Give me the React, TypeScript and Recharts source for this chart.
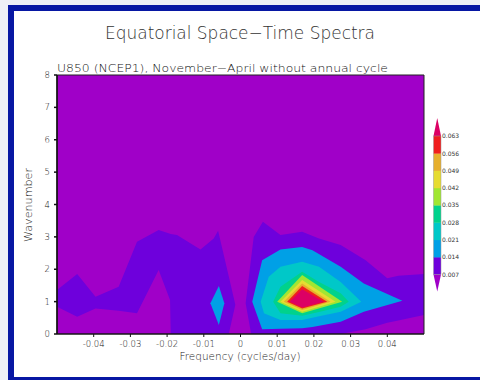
import { Area, CartesianGrid, ComposedChart, ReferenceArea, XAxis, YAxis } from "recharts";

// contour bands: at each frequency f, the band covers wavenumbers lo..hi
const band1West = [
  { f: -0.05, lo: 0.84, hi: 1.36 },
  { f: -0.0445, lo: 0.53, hi: 1.85 },
  { f: -0.0395, lo: 0.79, hi: 1.15 },
  { f: -0.0332, lo: 0.72, hi: 1.46 },
  { f: -0.0282, lo: 0.64, hi: 2.85 },
  { f: -0.0223, lo: 1.98, hi: 3.21 },
  { f: -0.0192, lo: 1.05, hi: 3.1 },
  { f: -0.019, lo: 0, hi: 3.09 },
  { f: -0.0173, lo: 0, hi: 3.06 },
  { f: -0.0109, lo: 0, hi: 2.61 },
  { f: -0.0073, lo: 0, hi: 2.95 },
  { f: -0.0061, lo: 0, hi: 3.19 },
  { f: -0.0032, lo: 0, hi: 1.78 },
  { f: -0.0014, lo: 0.9, hi: 0.9 },
];

const band1East = [
  { f: 0.0014, lo: 0.95, hi: 0.95 },
  { f: 0.0029, lo: 0, hi: 2.35 },
  { f: 0.0036, lo: 0, hi: 3.0 },
  { f: 0.0061, lo: 0, hi: 3.47 },
  { f: 0.0109, lo: 0, hi: 3.06 },
  { f: 0.0168, lo: 0, hi: 3.16 },
  { f: 0.0214, lo: 0, hi: 2.95 },
  { f: 0.0273, lo: 0, hi: 2.75 },
  { f: 0.0341, lo: 0.15, hi: 2.28 },
  { f: 0.04, lo: 0.35, hi: 1.72 },
  { f: 0.043, lo: 0.42, hi: 1.8 },
  { f: 0.05, lo: 0.59, hi: 1.85 },
];

const band2West = [
  { f: -0.0082, lo: 0.95, hi: 0.95 },
  { f: -0.0059, lo: 0.28, hi: 1.48 },
  { f: -0.0044, lo: 0.95, hi: 0.95 },
];

const band2East = [
  { f: 0.0032, lo: 1.0, hi: 1.0 },
  { f: 0.0059, lo: 0.15, hi: 2.28 },
  { f: 0.0109, lo: 0.16, hi: 2.61 },
  { f: 0.0168, lo: 0.18, hi: 2.69 },
  { f: 0.0196, lo: 0.22, hi: 2.59 },
  { f: 0.0273, lo: 0.38, hi: 2.08 },
  { f: 0.0336, lo: 0.69, hi: 1.56 },
  { f: 0.0441, lo: 1.03, hi: 1.03 },
];

const band3 = [
  { f: 0.0055, lo: 1.0, hi: 1.0 },
  { f: 0.0064, lo: 0.64, hi: 1.31 },
  { f: 0.0077, lo: 0.58, hi: 1.77 },
  { f: 0.0109, lo: 0.43, hi: 2.08 },
  { f: 0.0168, lo: 0.43, hi: 2.23 },
  { f: 0.0214, lo: 0.55, hi: 2.08 },
  { f: 0.0273, lo: 0.69, hi: 1.61 },
  { f: 0.0329, lo: 1.0, hi: 1.0 },
];

const band4 = [
  { f: 0.0089, lo: 1.0, hi: 1.0 },
  { f: 0.0109, lo: 0.64, hi: 1.46 },
  { f: 0.0168, lo: 0.56, hi: 1.92 },
  { f: 0.0214, lo: 0.68, hi: 1.61 },
  { f: 0.0273, lo: 0.84, hi: 1.26 },
  { f: 0.0295, lo: 1.0, hi: 1.0 },
];

const band5 = [
  { f: 0.01, lo: 1.0, hi: 1.0 },
  { f: 0.0168, lo: 0.64, hi: 1.82 },
  { f: 0.0277, lo: 1.0, hi: 1.0 },
];

const band6 = [
  { f: 0.0109, lo: 1.0, hi: 1.0 },
  { f: 0.0168, lo: 0.69, hi: 1.67 },
  { f: 0.0259, lo: 1.0, hi: 1.0 },
];

const band7 = [
  { f: 0.0118, lo: 1.0, hi: 1.0 },
  { f: 0.0168, lo: 0.74, hi: 1.56 },
  { f: 0.0245, lo: 1.0, hi: 1.0 },
];

const band8 = [
  { f: 0.0127, lo: 1.0, hi: 1.0 },
  { f: 0.0168, lo: 0.79, hi: 1.48 },
  { f: 0.0236, lo: 1.0, hi: 1.0 },
];

const band9 = [
  { f: 0.0134, lo: 1.0, hi: 1.0 },
  { f: 0.0168, lo: 0.82, hi: 1.38 },
  { f: 0.0227, lo: 1.0, hi: 1.0 },
];

const levelLabels = ["0.007", "0.014", "0.021", "0.028", "0.035", "0.042", "0.049", "0.056", "0.063"];
// below first level .. above last level
const levelColors = [
  "#a000c8",
  "#6e00dc",
  "#00a0e6",
  "#00c8c8",
  "#00d28c",
  "#a0e632",
  "#e6dc32",
  "#e6af2d",
  "#f01e1e",
  "#dc0064",
];

const freqTicks = [-0.04, -0.03, -0.02, -0.01, 0, 0.01, 0.02, 0.03, 0.04];
const waveTicks = [0, 1, 2, 3, 4, 5, 6, 7, 8];

const layers = [
  { data: band1West, level: 1 },
  { data: band1East, level: 1 },
  { data: band2West, level: 2 },
  { data: band2East, level: 2 },
  { data: band3, level: 3 },
  { data: band4, level: 4 },
  { data: band5, level: 5 },
  { data: band6, level: 6 },
  { data: band7, level: 7 },
  { data: band8, level: 8 },
  { data: band9, level: 9 },
];

const FONT = "'DejaVu Sans', sans-serif";
const tickStyle = { fontSize: 8.5, fill: "#111", fontFamily: FONT, fontWeight: 200 };

function ColorBar() {
  const x = 433.5;
  const w = 7.5;
  const top = 136;
  const step = 17.3;
  const n = levelLabels.length - 1;
  const bottom = top + n * step;
  const cx = x + w / 2;
  return (
    <g>
      <polygon points={`${x},${top} ${x + w},${top} ${cx},${top - 18}`} fill={levelColors[9]} />
      {levelColors.slice(1, 9).map((c, i) => (
        <rect key={c} x={x} y={top + (n - 1 - i) * step} width={w} height={step + 0.3} fill={c} />
      ))}
      <polygon points={`${x},${bottom} ${x + w},${bottom} ${cx},${bottom + 17}`} fill={levelColors[0]} />
      <rect x={x} y={top} width={w} height={bottom - top} fill="none" stroke="#999" strokeWidth={0.5} />
      {levelLabels.map((t, i) => (
        <text key={t} x={x + w + 1} y={bottom - i * step + 2.2} fontSize={6} fill="#333" fontFamily={FONT}>
          {t}
        </text>
      ))}
    </g>
  );
}

export default function App() {
  return (
    <div style={{ position: "fixed", inset: 0, background: "#eef0f6", overflow: "hidden" }}>
      <div
        style={{
          position: "absolute",
          left: 8,
          top: 5,
          width: 480,
          height: 366,
          background: "#fff",
          borderLeft: "6px solid #0717a3",
          borderTop: "6px solid #0717a3",
          borderBottom: "6px solid #0717a3",
        }}
      />
      <div style={{ position: "absolute", left: 0, top: 0 }}>
        <ComposedChart width={480} height={380} margin={{ top: 75, right: 56, bottom: 26, left: 37 }}>
          <CartesianGrid fill={levelColors[0]} stroke="none" />
          <XAxis
            dataKey="f"
            type="number"
            domain={[-0.05, 0.05]}
            allowDataOverflow
            ticks={freqTicks}
            tickSize={3}
            tickMargin={4}
            height={20}
            tick={tickStyle}
            stroke="#111"
            interval={0}
          />
          <YAxis
            type="number"
            domain={[0, 8]}
            allowDataOverflow
            ticks={waveTicks}
            tickSize={3}
            tickMargin={4}
            width={20}
            tick={tickStyle}
            stroke="#111"
            strokeWidth={1.5}
            interval={0}
          />
          {layers.map((l, i) => (
            <Area
              key={i}
              data={l.data}
              dataKey={(d: { lo: number; hi: number }) => [d.lo, d.hi]}
              type="linear"
              stroke="none"
              fill={levelColors[l.level]}
              fillOpacity={1}
              dot={false}
              activeDot={false}
              isAnimationActive={false}
            />
          ))}
          <ReferenceArea x1={-0.05} x2={0.05} y1={0} y2={8} fill="none" stroke="#222" strokeWidth={1} />
        </ComposedChart>
      </div>
      <svg width={480} height={380} style={{ position: "absolute", left: 0, top: 0 }}>
        <text
          x={105}
          y={39}
          fontSize={17}
          fill="#333"
          fontWeight={200}
          fontFamily={FONT}
          textLength={270}
          lengthAdjust="spacingAndGlyphs"
        >
          Equatorial Space−Time Spectra
        </text>
        <text
          x={57}
          y={71.5}
          fontSize={11}
          fill="#111"
          fontWeight={200}
          fontFamily={FONT}
          textLength={331}
          lengthAdjust="spacingAndGlyphs"
        >
          U850 (NCEP1), November−April without annual cycle
        </text>
        <text
          x={179.5}
          y={360}
          fontSize={10}
          fill="#222"
          fontWeight={200}
          fontFamily={FONT}
          textLength={121}
          lengthAdjust="spacingAndGlyphs"
        >
          Frequency (cycles/day)
        </text>
        <text
          x={0}
          y={0}
          fontSize={10.5}
          fill="#222"
          fontWeight={200}
          fontFamily={FONT}
          textLength={74}
          lengthAdjust="spacingAndGlyphs"
          transform="translate(32 242) rotate(-90)"
        >
          Wavenumber
        </text>
        <ColorBar />
      </svg>
    </div>
  );
}
